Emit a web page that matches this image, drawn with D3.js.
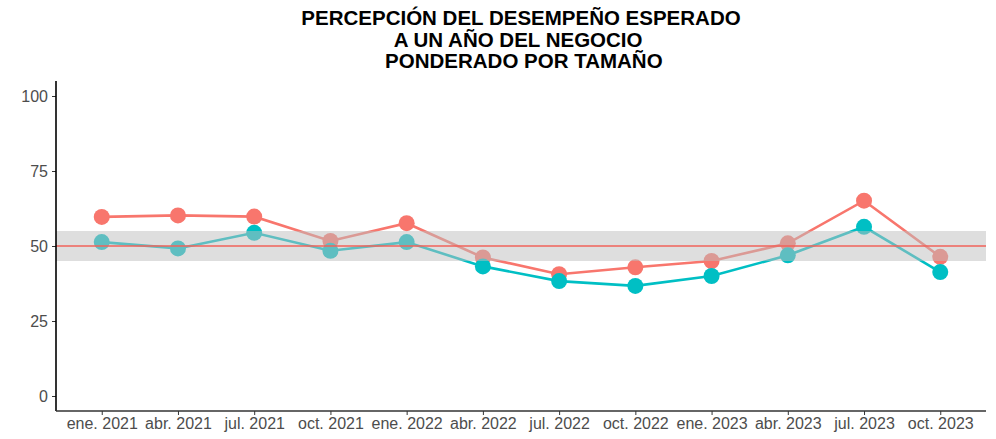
<!DOCTYPE html>
<html>
<head>
<meta charset="utf-8">
<script src="https://cdn.jsdelivr.net/npm/d3@7"></script>
<style>
  body { margin: 0; background: #fff; }
  text { font-family: "Liberation Sans", Arial, sans-serif; }
</style>
</head>
<body>
<div id="chart"></div>
<script>
// periods on the x axis
const periods = ["ene. 2021", "abr. 2021", "jul. 2021", "oct. 2021", "ene. 2022", "abr. 2022",
                 "jul. 2022", "oct. 2022", "ene. 2023", "abr. 2023", "jul. 2023", "oct. 2023"];

// two series
const serieRoja = [59.7, 60.2, 59.8, 51.7, 57.6, 46.2, 40.6, 42.9, 45.0, 50.9, 65.1, 46.4];
const serieCian = [51.3, 49.2, 54.4, 48.4, 51.3, 43.2, 38.3, 36.7, 40.0, 46.9, 56.4, 41.3];

const yTicks = [0, 25, 50, 75, 100];
const banda = [45, 55];
const referencia = 50;
const titulo = ["PERCEPCIÓN DEL DESEMPEÑO ESPERADO", "A UN AÑO DEL NEGOCIO ", " PONDERADO POR TAMAÑO"];

const WIDTH = 996, HEIGHT = 439;
const margin = {top: 81, right: 10, bottom: 28, left: 56};
const WIDTHVIS = WIDTH - margin.left - margin.right;
const HEIGHTVIS = HEIGHT - margin.top - margin.bottom;

const svg = d3.select("#chart").append("svg")
    .attr("width", WIDTH)
    .attr("height", HEIGHT);

const xScale = d3.scalePoint()
    .domain(periods)
    .range([0, WIDTHVIS])
    .padding(0.6);

const yScale = d3.scaleLinear()
    .domain([-5, 105])
    .range([HEIGHTVIS, 0]);

const g = svg.append("g")
    .attr("transform", `translate(${margin.left},${margin.top})`);

// series: lines + points
const series = [
    {values: serieRoja, color: "#F8766D"},
    {values: serieCian, color: "#00BFC4"}
];

const line = d3.line()
    .x((d, i) => xScale(periods[i]))
    .y(d => yScale(d));

series.forEach(s => {
    g.append("path")
        .datum(s.values)
        .attr("fill", "none")
        .attr("stroke", s.color)
        .attr("stroke-width", 2.6)
        .attr("d", line);
});
series.forEach(s => {
    g.selectAll(null)
        .data(s.values)
        .join("circle")
        .attr("cx", (d, i) => xScale(periods[i]))
        .attr("cy", d => yScale(d))
        .attr("r", 8)
        .attr("fill", s.color);
});

// gray band drawn on top (semi transparent)
g.append("rect")
    .attr("x", 0)
    .attr("width", WIDTHVIS)
    .attr("y", yScale(banda[1]))
    .attr("height", yScale(banda[0]) - yScale(banda[1]))
    .attr("fill", "#BEBEBE")
    .attr("opacity", 0.5);

g.append("line")
    .attr("x1", 0).attr("x2", WIDTHVIS)
    .attr("y1", yScale(referencia)).attr("y2", yScale(referencia))
    .attr("stroke", "#F0625A")
    .attr("stroke-width", 1.3);

// axes
const ejeY = d3.axisLeft(yScale).tickValues(yTicks).tickSize(4).tickPadding(4);
const ejeX = d3.axisBottom(xScale).tickSize(4).tickPadding(3);

const gy = g.append("g").call(ejeY);
gy.select(".domain").remove();
gy.selectAll(".tick line").attr("stroke", "#333333");
gy.selectAll(".tick text").attr("fill", "#4D4D4D").attr("font-size", "16px");

const gx = g.append("g").attr("transform", `translate(0,${HEIGHTVIS})`).call(ejeX);
gx.select(".domain").remove();
gx.selectAll(".tick line").attr("stroke", "#333333");
gx.selectAll(".tick text").attr("fill", "#4D4D4D").attr("font-size", "16px");

g.append("line")
    .attr("x1", 0).attr("x2", 0)
    .attr("y1", 0).attr("y2", HEIGHTVIS)
    .attr("stroke", "#000").attr("stroke-width", 1.6);
g.append("line")
    .attr("x1", 0).attr("x2", WIDTHVIS)
    .attr("y1", HEIGHTVIS).attr("y2", HEIGHTVIS)
    .attr("stroke", "#333").attr("stroke-width", 1.6);

// title
svg.append("text")
    .attr("text-anchor", "middle")
    .attr("font-weight", "bold")
    .attr("font-size", "20.5px")
    .attr("fill", "#000")
    .selectAll("tspan")
    .data(titulo)
    .join("tspan")
    .attr("x", margin.left + WIDTHVIS / 2)
    .attr("y", (d, i) => 25 + i * 21.5)
    .attr("xml:space", "preserve")
    .style("white-space", "pre")
    .text(d => d);
</script>
</body>
</html>
